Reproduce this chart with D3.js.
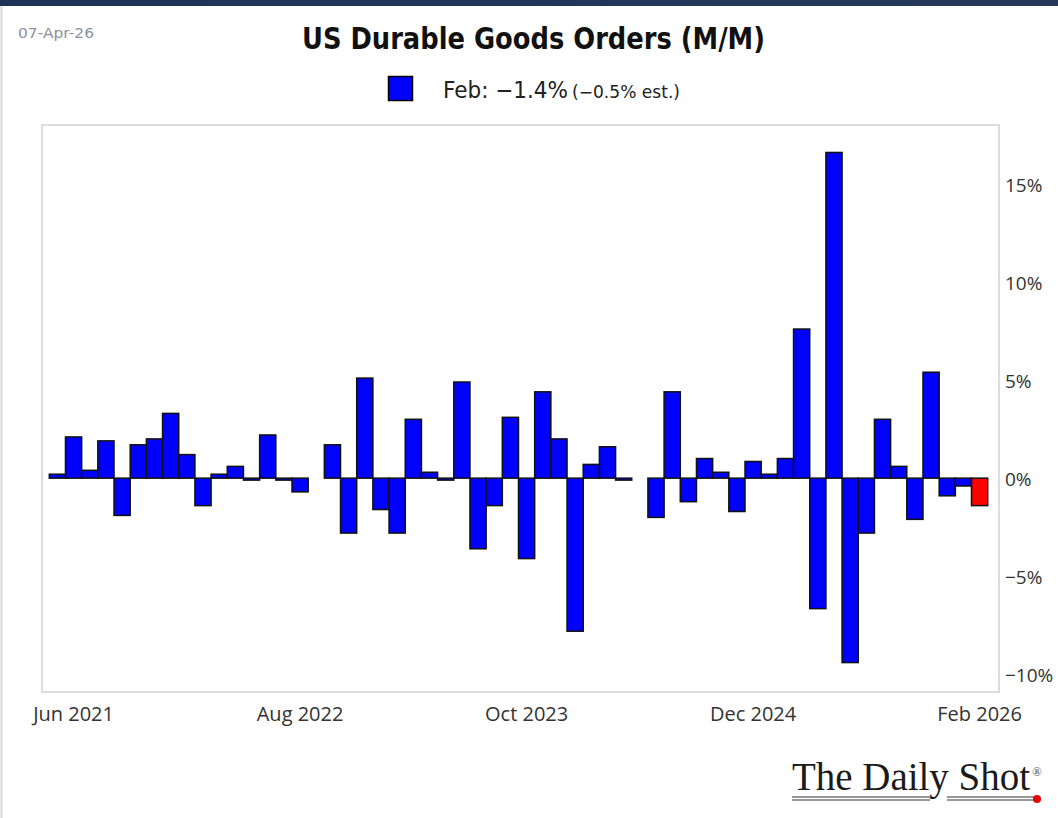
<!DOCTYPE html>
<html>
<head>
<meta charset="utf-8">
<script src="https://cdn.jsdelivr.net/npm/d3@7"></script>
<style>
  html, body { margin: 0; padding: 0; background: #fff; }
  svg { display: block; }
</style>
</head>
<body>
<svg id="chart" width="1058" height="818"></svg>
<script>
// ---------- data ----------
const months = [
  "2021-05","2021-06","2021-07","2021-08","2021-09","2021-10","2021-11","2021-12",
  "2022-01","2022-02","2022-03","2022-04","2022-05","2022-06","2022-07","2022-08","2022-09","2022-10","2022-11","2022-12",
  "2023-01","2023-02","2023-03","2023-04","2023-05","2023-06","2023-07","2023-08","2023-09","2023-10","2023-11","2023-12",
  "2024-01","2024-02","2024-03","2024-04","2024-05","2024-06","2024-07","2024-08","2024-09","2024-10","2024-11","2024-12",
  "2025-01","2025-02","2025-03","2025-04","2025-05","2025-06","2025-07","2025-08","2025-09","2025-10","2025-11","2025-12",
  "2026-01","2026-02"
];
const values = [
  0.2, 2.1, 0.4, 1.9, -1.9, 1.7, 2.0, 3.3,
  1.2, -1.4, 0.2, 0.6, -0.1, 2.2, -0.1, -0.7, null, 1.7, -2.8, 5.1,
  -1.6, -2.8, 3.0, 0.3, -0.1, 4.9, -3.6, -1.4, 3.1, -4.1, 4.4, 2.0,
  -7.8, 0.7, 1.6, -0.1, null, -2.0, 4.4, -1.2, 1.0, 0.3, -1.7, 0.85,
  0.2, 1.0, 7.6, -6.65, 16.6, -9.4, -2.8, 3.0, 0.6, -2.1, 5.4, -0.9,
  -0.4, -1.4
];
const highlightMonth = "2026-02";
const xTickValues = ["2021-06","2022-08","2023-10","2024-12","2026-02"];
const xTickLabels = ["Jun 2021","Aug 2022","Oct 2023","Dec 2024","Feb 2026"];
const yTickValues = [-10, -5, 0, 5, 10, 15];
const yDomain = [-10.9, 18];
const titleText = "US Durable Goods Orders (M/M)";
const dateText = "07-Apr-26";
const legendMain = "Feb: \u22121.4%";
const legendSub = "(\u22120.5% est.)";

// ---------- layout ----------
const W = 1058, H = 818;
const frame = {left: 42, right: 999, top: 125, bottom: 692};
const barRange = [49.3, 987.7];
const condFont = "'DejaVu Sans', 'Open Sans', sans-serif";

const svg = d3.select("#chart");
svg.append("rect").attr("width", W).attr("height", H).attr("fill", "#fff");

// top band
const grad = svg.append("defs").append("linearGradient").attr("id", "band");
grad.append("stop").attr("offset", "0%").attr("stop-color", "#1d3358");
grad.append("stop").attr("offset", "100%").attr("stop-color", "#26395a");
svg.append("rect").attr("x", 0).attr("y", 0).attr("width", W).attr("height", 6).attr("fill", "url(#band)");
svg.append("line").attr("x1", 1.5).attr("x2", 1.5).attr("y1", 6).attr("y2", H)
  .attr("stroke", "#d9d9d9").attr("stroke-width", 2);

// date
svg.append("text").attr("x", 18).attr("y", 38).text(dateText)
  .attr("font-family", condFont).attr("font-size", 14).attr("fill", "#8d929c")
  .attr("textLength", 76).attr("lengthAdjust", "spacingAndGlyphs");

// title
svg.append("text").attr("x", 302).attr("y", 49).text(titleText)
  .attr("font-family", condFont).attr("font-weight", "bold").attr("font-size", 31).attr("fill", "#111")
  .attr("textLength", 463).attr("lengthAdjust", "spacingAndGlyphs");

// legend
svg.append("rect").attr("x", 388.5).attr("y", 76.5).attr("width", 24).attr("height", 24)
  .attr("fill", "#0000ff").attr("stroke", "#000").attr("stroke-width", 1.5);
svg.append("text").attr("x", 443).attr("y", 98).text(legendMain)
  .attr("font-family", condFont).attr("font-size", 23).attr("fill", "#222")
  .attr("textLength", 125).attr("lengthAdjust", "spacingAndGlyphs");
svg.append("text").attr("x", 572).attr("y", 98).text(legendSub)
  .attr("font-family", condFont).attr("font-size", 17).attr("fill", "#222")
  .attr("textLength", 108).attr("lengthAdjust", "spacingAndGlyphs");

// frame
svg.append("rect").attr("x", frame.left).attr("y", frame.top)
  .attr("width", frame.right - frame.left).attr("height", frame.bottom - frame.top)
  .attr("fill", "none").attr("stroke", "#dcdcdc").attr("stroke-width", 2);

// scales
const x = d3.scaleBand().domain(months).range(barRange).padding(0);
const y = d3.scaleLinear().domain(yDomain).range([frame.bottom, frame.top]);

const data = months.map((m, i) => ({m, v: values[i]})).filter(d => d.v !== null);

svg.append("g").selectAll("rect").data(data).join("rect")
  .attr("x", d => x(d.m))
  .attr("width", x.bandwidth())
  .attr("y", d => y(Math.max(0, d.v)))
  .attr("height", d => Math.abs(y(d.v) - y(0)))
  .attr("fill", d => d.m === highlightMonth ? "#ff0000" : "#0000ff")
  .attr("stroke", "#111").attr("stroke-width", 1.5);

// axes
const fmtPct = d => (d < 0 ? "\u2212" : "") + Math.abs(d) + "%";
const yAxis = svg.append("g").attr("transform", `translate(${frame.right},0)`)
  .call(d3.axisRight(y).tickValues(yTickValues).tickFormat(fmtPct).tickSize(0).tickPadding(6));
yAxis.select(".domain").remove();
yAxis.selectAll("text").attr("font-family", "'Open Sans', sans-serif").attr("font-size", 19).attr("fill", "#333")
  .attr("dy", "0.4em");

const xAxis = svg.append("g").attr("transform", `translate(0,${frame.bottom})`)
  .call(d3.axisBottom(x).tickValues(xTickValues)
    .tickFormat(d => xTickLabels[xTickValues.indexOf(d)]).tickSize(0).tickPadding(15));
xAxis.select(".domain").remove();
xAxis.selectAll("text").attr("font-family", "'Open Sans', sans-serif").attr("font-size", 20).attr("fill", "#333");

// logo
const logo = svg.append("g");
logo.append("text").attr("x", 792).attr("y", 790).text("The Daily Shot")
  .attr("font-family", "'Liberation Serif', 'DejaVu Serif', serif").attr("font-size", 39)
  .attr("fill", "#1a1a1a").attr("textLength", 238).attr("lengthAdjust", "spacingAndGlyphs");
logo.append("text").attr("x", 1032).attr("y", 776).text("\u00AE")
  .attr("font-family", "'Liberation Serif', serif").attr("font-size", 13).attr("fill", "#555");
[[792, 930], [947, 1035]].forEach(([a, b]) => {
  logo.append("line").attr("x1", a).attr("x2", b).attr("y1", 797).attr("y2", 797).attr("stroke", "#333").attr("stroke-width", 1.2);
  logo.append("line").attr("x1", a).attr("x2", b).attr("y1", 800).attr("y2", 800).attr("stroke", "#333").attr("stroke-width", 1.2);
});
logo.append("circle").attr("cx", 1037).attr("cy", 799).attr("r", 4).attr("fill", "#e8000b");
</script>
</body>
</html>
